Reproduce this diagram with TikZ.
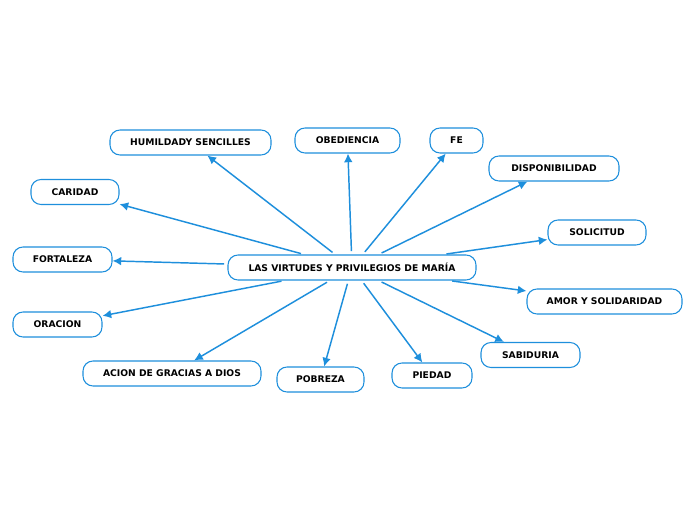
\documentclass[tikz,border=0pt]{standalone}
\usepackage{fontspec}
\setmainfont{DejaVu Sans}
\usetikzlibrary{arrows.meta}
\definecolor{lnblue}{HTML}{1E8FDC}
\begin{document}
\begin{tikzpicture}[x=0.75pt,y=-0.75pt,
  box/.style={draw=lnblue, line width=0.8pt, rounded corners=7.5pt, fill=white,
    minimum width=#1*0.75pt, minimum height=18.75pt, inner sep=0pt,
    font=\fontsize{6.9pt}{8pt}\selectfont\bfseries},
  conn/.style={draw=lnblue, line width=1.1pt, shorten <=2.5pt,
    -{Latex[length=6.5pt,width=6.5pt]}}]
\useasboundingbox (0,0) rectangle (696,520);
\node[box=248] (c) at (352,267.5) {LAS VIRTUDES Y PRIVILEGIOS DE MARÍA};
\node[box=161] (hum) at (190.5,142.5) {HUMILDADY SENCILLES};
\node[box=105] (obe) at (347.5,140.5) {OBEDIENCIA};
\node[box=53] (fe) at (456.5,140.5) {FE};
\node[box=130] (dis) at (554,168.5) {DISPONIBILIDAD};
\node[box=88] (car) at (75,192) {CARIDAD};
\node[box=98] (sol) at (597,232.5) {SOLICITUD};
\node[box=99] (for) at (62.5,259.5) {FORTALEZA};
\node[box=155] (amo) at (604.5,301.5) {AMOR Y SOLIDARIDAD};
\node[box=89] (ora) at (57.5,324.5) {ORACION};
\node[box=99] (sab) at (530.5,355) {SABIDURIA};
\node[box=178] (aci) at (172,373.5) {ACION DE GRACIAS A DIOS};
\node[box=87] (pob) at (320.5,379.5) {POBREZA};
\node[box=80] (pie) at (432,375.5) {PIEDAD};
\foreach \t in {hum,obe,fe,dis,car,sol,for,amo,ora,sab,aci,pob,pie}
  \draw[conn] (c) -- (\t);
\end{tikzpicture}
\end{document}
